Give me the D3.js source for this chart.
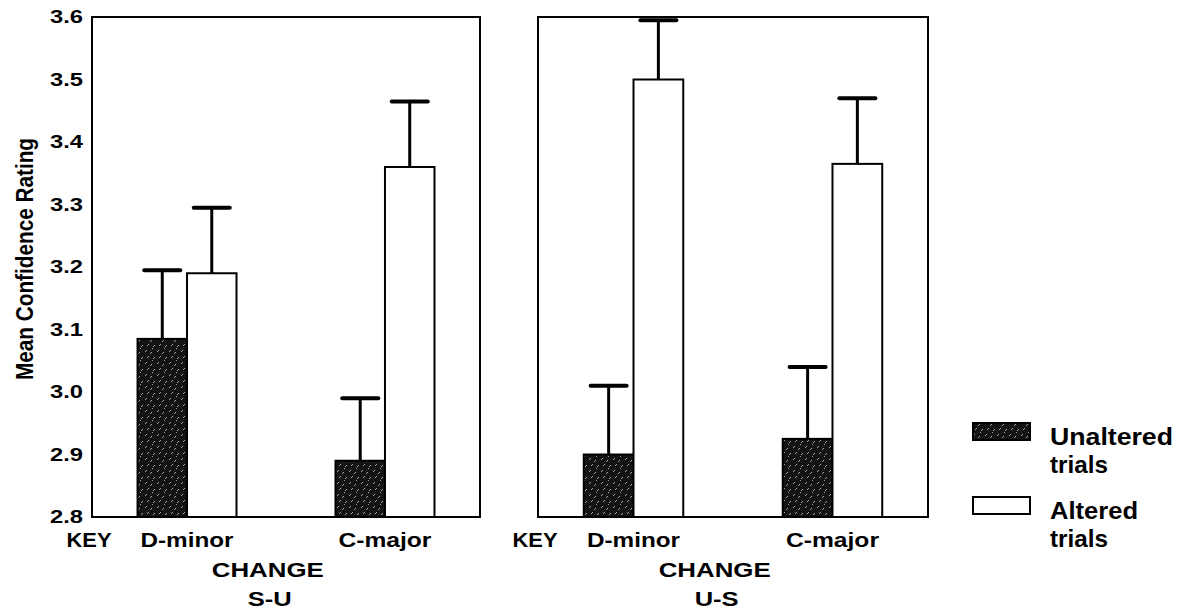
<!DOCTYPE html>
<html>
<head>
<meta charset="utf-8">
<script src="https://cdn.jsdelivr.net/npm/d3@7"></script>
<style>
  body { margin: 0; background: #fff; }
  svg { display: block; }
  text { font-family: "Liberation Sans", Arial, sans-serif; font-weight: bold; fill: #000; }
</style>
</head>
<body>
<div id="chart"></div>
<script>
// data
var categories = ["D-minor", "C-major"];
var series = ["Unaltered", "Altered"];
var panels = ["S-U", "U-S"];
var unalteredMeans = [[3.085, 2.89], [2.90, 2.925]];
var alteredMeans = [[3.19, 3.36], [3.50, 3.365]];
var unalteredErr = [[0.11, 0.10], [0.11, 0.115]];
var alteredErr = [[0.105, 0.105], [0.095, 0.105]];
var yTicks = [2.8, 2.9, 3.0, 3.1, 3.2, 3.3, 3.4, 3.5, 3.6];
var legendLabels = [["Unaltered", "trials"], ["Altered", "trials"]];

var W = 1187, H = 616;

var svg = d3.select("#chart")
    .append("svg")
    .attr("width", W)
    .attr("height", H);

// hatched fill like the scanned dark bars
var defs = svg.append("defs");
var pat = defs.append("pattern")
    .attr("id", "hatch")
    .attr("width", 12)
    .attr("height", 12)
    .attr("patternUnits", "userSpaceOnUse");
pat.append("rect").attr("width", 12).attr("height", 12).attr("fill", "#141414");
[[1, 4, 3, 2], [6, 6, 8, 4], [3, 10, 5, 8], [9, 11, 11, 9], [8, 1, 9, 0]].forEach(function (s) {
    pat.append("line")
        .attr("x1", s[0]).attr("y1", s[1]).attr("x2", s[2]).attr("y2", s[3])
        .attr("stroke", "#c8c8c8").attr("stroke-width", 0.8);
});

var y = d3.scaleLinear()
    .domain([2.8, 3.6])
    .range([517, 17]);

var panelX = [[92, 480], [538, 928]];

panels.forEach(function (name, p) {
    var x0 = panelX[p][0], x1 = panelX[p][1];
    var g = svg.append("g");

    var x = d3.scaleBand()
        .domain(categories)
        .range([x0, x1])
        .paddingInner(0.5)
        .paddingOuter(0.23);

    var xs = d3.scaleBand()
        .domain(series)
        .range([0, x.bandwidth()]);

    var rows = [];
    categories.forEach(function (c, i) {
        rows.push({cat: c, s: "Unaltered", v: unalteredMeans[p][i], e: unalteredErr[p][i]});
        rows.push({cat: c, s: "Altered", v: alteredMeans[p][i], e: alteredErr[p][i]});
    });

    // error bars (drawn first so the bar outline sits on top)
    var eb = g.selectAll(".err")
        .data(rows)
        .enter().append("g")
        .attr("class", "err");
    eb.append("line")
        .attr("x1", function (d) { return x(d.cat) + xs(d.s) + xs.bandwidth() / 2; })
        .attr("x2", function (d) { return x(d.cat) + xs(d.s) + xs.bandwidth() / 2; })
        .attr("y1", function (d) { return y(d.v); })
        .attr("y2", function (d) { return y(d.v + d.e); })
        .attr("stroke", "#000")
        .attr("stroke-width", 3);
    eb.append("line")
        .attr("x1", function (d) { return x(d.cat) + xs(d.s) + xs.bandwidth() / 2 - 18; })
        .attr("x2", function (d) { return x(d.cat) + xs(d.s) + xs.bandwidth() / 2 + 18; })
        .attr("y1", function (d) { return y(d.v + d.e); })
        .attr("y2", function (d) { return y(d.v + d.e); })
        .attr("stroke", "#000")
        .attr("stroke-width", 4)
        .attr("stroke-linecap", "round");

    g.selectAll(".bar")
        .data(rows)
        .enter().append("rect")
        .attr("class", "bar")
        .attr("x", function (d) { return x(d.cat) + xs(d.s); })
        .attr("y", function (d) { return y(d.v); })
        .attr("width", xs.bandwidth())
        .attr("height", function (d) { return y(2.8) - y(d.v); })
        .attr("fill", function (d) { return d.s === "Unaltered" ? "url(#hatch)" : "#fff"; })
        .attr("stroke", "#000")
        .attr("stroke-width", 2);

    // panel frame
    g.append("rect")
        .attr("x", x0)
        .attr("y", y(3.6))
        .attr("width", x1 - x0)
        .attr("height", y(2.8) - y(3.6))
        .attr("fill", "none")
        .attr("stroke", "#000")
        .attr("stroke-width", 2);

    // category labels
    g.selectAll(".cat")
        .data(categories)
        .enter().append("text")
        .attr("class", "cat")
        .attr("x", function (d) { return x(d) + x.bandwidth() / 2; })
        .attr("y", 547)
        .attr("text-anchor", "middle")
        .style("font-size", "21px")
        .attr("textLength", 93)
        .attr("lengthAdjust", "spacingAndGlyphs")
        .text(function (d) { return d; });

    g.append("text")
        .attr("x", x0 - 3)
        .attr("y", 547)
        .attr("text-anchor", "middle")
        .style("font-size", "21px")
        .attr("textLength", 45)
        .attr("lengthAdjust", "spacingAndGlyphs")
        .text("KEY");

    g.append("text")
        .attr("x", x0 + (x1 - x0) * 0.453)
        .attr("y", 577)
        .attr("text-anchor", "middle")
        .style("font-size", "21px")
        .attr("textLength", 112)
        .attr("lengthAdjust", "spacingAndGlyphs")
        .text("CHANGE");

    g.append("text")
        .attr("x", x0 + (x1 - x0) * 0.453 + 2)
        .attr("y", 606)
        .attr("text-anchor", "middle")
        .style("font-size", "21px")
        .attr("textLength", 44)
        .attr("lengthAdjust", "spacingAndGlyphs")
        .text(name);
});

// y axis on the left panel only
var yAxis = svg.append("g")
    .attr("transform", "translate(" + panelX[0][0] + ",0)")
    .call(d3.axisLeft(y).tickValues(yTicks).tickSize(0).tickPadding(9).tickFormat(d3.format(".1f")));
yAxis.select(".domain").remove();
yAxis.selectAll("text")
    .style("font-size", "18px")
    .style("font-family", "'Liberation Sans', Arial, sans-serif")
    .style("font-weight", "bold")
    .attr("fill", "#000")
    .attr("textLength", 33)
    .attr("lengthAdjust", "spacingAndGlyphs");

svg.append("text")
    .attr("transform", "translate(33,259) rotate(-90)")
    .attr("text-anchor", "middle")
    .style("font-size", "24px")
    .attr("textLength", 242)
    .attr("lengthAdjust", "spacingAndGlyphs")
    .text("Mean Confidence Rating");

// legend
var legend = svg.append("g");
var legendY = [423, 497];
series.forEach(function (s, i) {
    legend.append("rect")
        .attr("x", 973)
        .attr("y", legendY[i])
        .attr("width", 57)
        .attr("height", 17)
        .attr("fill", s === "Unaltered" ? "url(#hatch)" : "#fff")
        .attr("stroke", "#000")
        .attr("stroke-width", 2);
    legend.append("text")
        .attr("x", 1050)
        .attr("y", legendY[i] + 22)
        .style("font-size", "24px")
        .attr("textLength", i === 0 ? 123 : 88)
        .attr("lengthAdjust", "spacingAndGlyphs")
        .text(legendLabels[i][0]);
    legend.append("text")
        .attr("x", 1050)
        .attr("y", legendY[i] + 50)
        .style("font-size", "24px")
        .attr("textLength", 58)
        .attr("lengthAdjust", "spacingAndGlyphs")
        .text(legendLabels[i][1]);
});
</script>
</body>
</html>
